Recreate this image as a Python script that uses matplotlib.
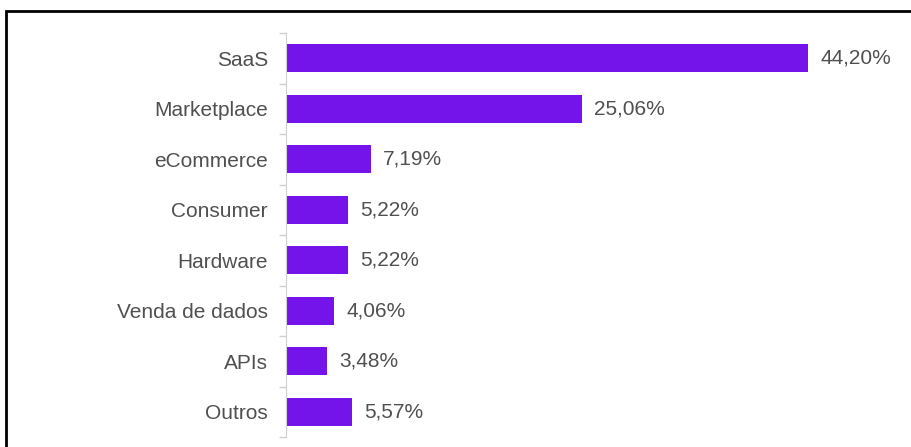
import matplotlib.pyplot as plt
from matplotlib.patches import Rectangle
import numpy as np

plt.rcParams['font.family'] = ['Liberation Sans', 'DejaVu Sans']

categorias = ["SaaS", "Marketplace", "eCommerce", "Consumer", "Hardware",
              "Venda de dados", "APIs", "Outros"]
percentuais = [44.20, 25.06, 7.19, 5.22, 5.22, 4.06, 3.48, 5.57]
rotulos = ["44,20%", "25,06%", "7,19%", "5,22%", "5,22%", "4,06%", "3,48%", "5,57%"]

roxo = "#7413EA"
cinza = "#505050"

W, H = 911, 447
fig = plt.figure(figsize=(W / 100, H / 100), dpi=100)

# moldura preta em volta do gráfico
fig.patches.append(Rectangle((6 / W, -0.1), 1.2, (H - 11) / H + 0.1,
                             transform=fig.transFigure, fill=False,
                             edgecolor="black", linewidth=2))

ax = fig.add_axes([286 / W, 10 / H, 1 - 286 / W, (437 - 33) / H])
y = np.arange(len(categorias))
ax.barh(y, percentuais, height=0.56, color=roxo)
for yi, v, txt in zip(y, percentuais, rotulos):
    ax.text(v + 1.05, yi, txt, va="center", ha="left", fontsize=15, color=cinza)

ax.set_xlim(0, (W - 286) / 11.81)
ax.set_ylim(len(categorias) - 0.5, -0.5)
ax.set_yticks(y)
ax.set_yticklabels(categorias, fontsize=15, color=cinza)
ax.tick_params(axis="y", which="major", length=0, pad=13)
ax.set_yticks(np.arange(len(categorias) + 1) - 0.5, minor=True)
ax.tick_params(axis="y", which="minor", length=5, color="#d0d0d0", width=1)
ax.set_xticks([])
for s in ["top", "right", "bottom"]:
    ax.spines[s].set_visible(False)
ax.spines["left"].set_color("#d0d0d0")

fig.savefig("out.png", dpi=100)
